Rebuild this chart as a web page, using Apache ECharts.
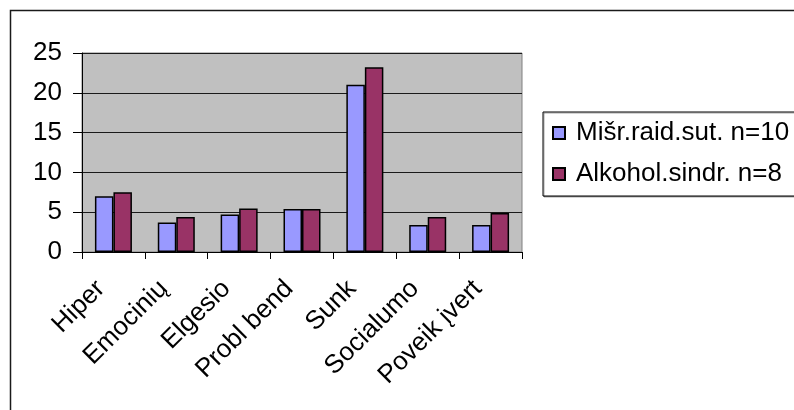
<!DOCTYPE html>
<html>
<head>
<meta charset="utf-8">
<script src="https://cdn.jsdelivr.net/npm/echarts@6/dist/echarts.min.js"></script>
<style>
  html, body { margin: 0; padding: 0; background: #fff; }
  #chart { width: 794px; height: 410px; }
</style>
</head>
<body>
<div id="chart"></div>
<script>
// Category names along the x axis
const categories = ['Hiper', 'Emocinių', 'Elgesio', 'Probl bend', 'Sunk', 'Socialumo', 'Poveik įvert'];

// Series names
const seriesNames = ['Mišr.raid.sut. n=10', 'Alkohol.sindr. n=8'];

// Mean scores per group
const mixedDevValues = [7.0, 3.7, 4.7, 5.4, 21.0, 3.4, 3.4];
const alcoholValues = [7.5, 4.4, 5.45, 5.4, 23.2, 4.4, 4.9];

// Value axis ticks
const yTicks = [0, 5, 10, 15, 20, 25];

const FONT = 'Liberation Sans, Arial, sans-serif';

const chart = echarts.init(document.getElementById('chart'), null, { renderer: 'canvas' });

chart.setOption({
  animation: false,
  backgroundColor: '#ffffff',
  textStyle: { fontFamily: FONT },
  graphic: [{
    type: 'rect',
    shape: { x: 10.5, y: 10.5, width: 820, height: 440 },
    style: { fill: 'none', stroke: '#1a1a1a', lineWidth: 1.5 },
    silent: true,
    z: 0
  }],
  grid: {
    left: 82, right: 272, top: 53, bottom: 158,
    show: true,
    backgroundColor: '#C0C0C0',
    borderColor: '#808080',
    borderWidth: 1
  },
  legend: {
    orient: 'vertical',
    left: 543, top: 112,
    padding: [8, 20, 9, 9],
    icon: 'rect',
    itemWidth: 12, itemHeight: 12,
    itemGap: 15,
    backgroundColor: '#ffffff',
    borderColor: '#000000',
    borderWidth: 1,
    shadowColor: 'rgba(0,0,0,0.35)',
    shadowOffsetX: 1, shadowOffsetY: 1,
    textStyle: { fontSize: 26, color: '#000', fontFamily: FONT, padding: [0, 0, 0, 6] },
    data: seriesNames
  },
  xAxis: {
    type: 'category',
    data: categories,
    boundaryGap: true,
    axisLine: { show: true, lineStyle: { color: '#000', width: 1 } },
    axisTick: { show: true, alignWithLabel: false, length: 7, lineStyle: { color: '#000' } },
    axisLabel: {
      interval: 0, rotate: 45, fontSize: 26, color: '#000', fontFamily: FONT,
      margin: 20, padding: [0, 18, 0, 0]
    },
    splitLine: { show: false }
  },
  yAxis: {
    type: 'value',
    min: yTicks[0], max: yTicks[yTicks.length - 1], interval: 5,
    axisLine: { show: true, lineStyle: { color: '#000', width: 1 } },
    axisTick: { show: true, length: 9, lineStyle: { color: '#000' } },
    axisLabel: { fontSize: 26, color: '#000', fontFamily: FONT, margin: 20 },
    splitLine: { show: true, lineStyle: { color: '#1a1a1a', width: 1 } }
  },
  series: [
    {
      name: seriesNames[0], type: 'bar', data: mixedDevValues,
      barWidth: 18.5, barGap: '0%',
      itemStyle: { color: '#9999FF', borderColor: '#000', borderWidth: 1.5 }
    },
    {
      name: seriesNames[1], type: 'bar', data: alcoholValues,
      barWidth: 18.5, barGap: '0%',
      itemStyle: { color: '#993366', borderColor: '#000', borderWidth: 1.5 }
    }
  ]
});
</script>
</body>
</html>
